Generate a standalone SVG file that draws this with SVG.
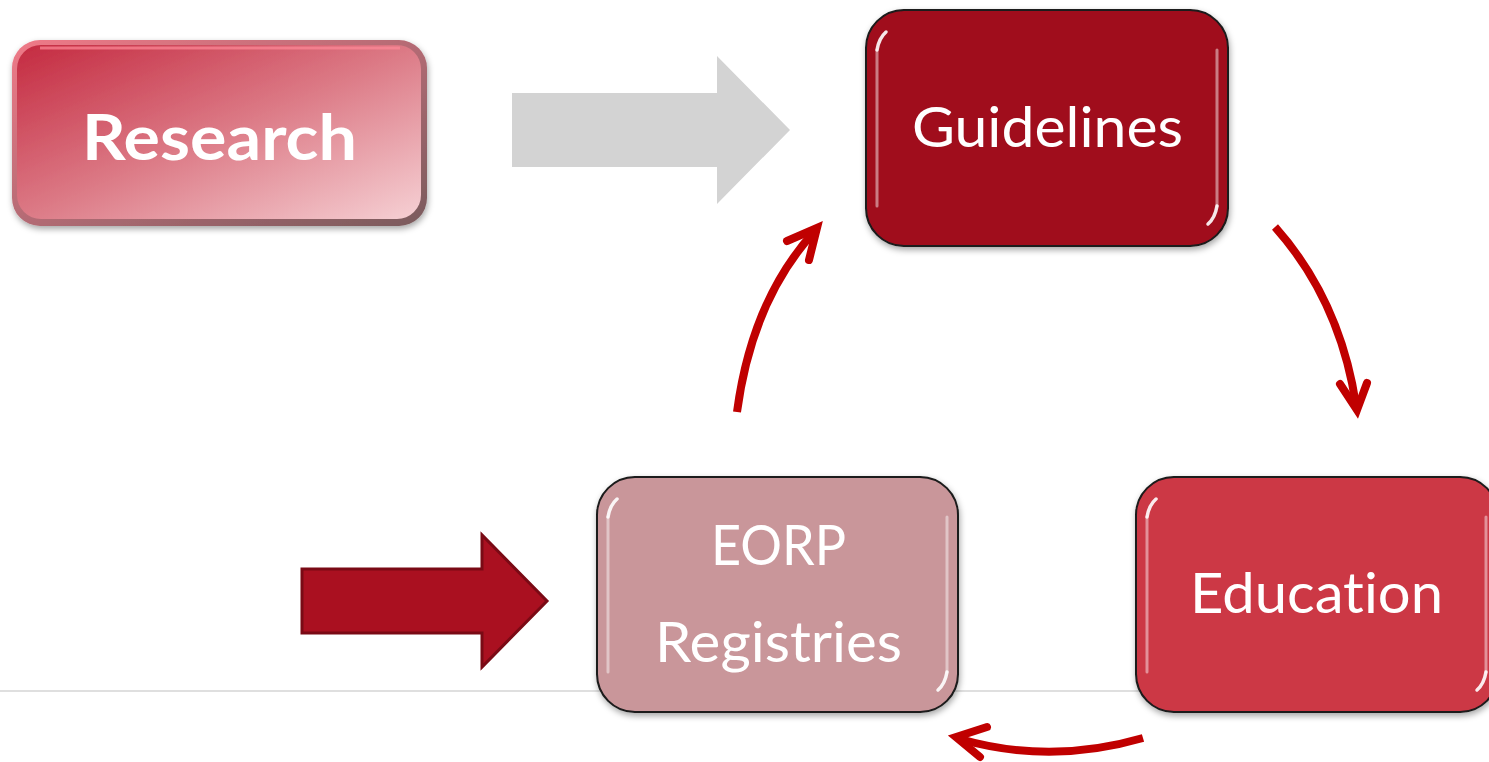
<svg xmlns="http://www.w3.org/2000/svg" width="1489" height="762" viewBox="0 0 1489 762">
<style>
.lbl{font-family:Lato,"Open Sans","Liberation Sans",sans-serif;fill:#ffffff;font-size:57px;font-variant-ligatures:none;font-feature-settings:"liga" 0}
.box{stroke:#1a1a1a;stroke-width:2}
.hl{fill:none;stroke:#ffffff;stroke-opacity:0.45;stroke-width:3;stroke-linecap:round}
.hc{fill:none;stroke:#ffffff;stroke-opacity:0.9;stroke-width:3.5;stroke-linecap:round}
.cur{fill:none;stroke:#c00000;stroke-width:8;stroke-linecap:butt}
.head{fill:none;stroke:#c00000;stroke-width:8;stroke-linecap:round;stroke-linejoin:miter}
</style>
<defs>
<filter id="sh" x="-10%" y="-10%" width="120%" height="125%">
<feDropShadow dx="1" dy="3" stdDeviation="3" flood-color="#000" flood-opacity="0.35"/>
</filter>
<linearGradient id="resg" x1="0" y1="0" x2="1" y2="1">
<stop offset="0" stop-color="#c42a40"/>
<stop offset="0.5" stop-color="#dc7a86"/>
<stop offset="1" stop-color="#f6d0d4"/>
</linearGradient>
<linearGradient id="resedge" x1="0" y1="0" x2="1" y2="1">
<stop offset="0" stop-color="#f07a88"/>
<stop offset="0.6" stop-color="#a86870"/>
<stop offset="1" stop-color="#7a5a5c"/>
</linearGradient>
</defs>

<line x1="0" y1="691" x2="1140" y2="691" stroke="#d4d4d4" stroke-width="1.5"/>

<g id="research" filter="url(#sh)">
<rect x="12" y="40" width="415" height="186" rx="28" fill="url(#resedge)"/>
<rect x="17" y="45" width="404" height="174" rx="24" fill="url(#resg)"/>
<path d="M40,48 L400,48" stroke="#ff8a98" stroke-opacity="0.7" stroke-width="3" fill="none"/>
<text x="82" y="160" class="lbl" style="font-weight:bold;font-size:63px" textLength="275" lengthAdjust="spacingAndGlyphs">Research</text>
</g>

<g id="grey-arrow">
<polygon points="512,93 717,93 717,56 790,130 717,204 717,167 512,167" fill="#d3d3d3"/>
</g>

<g id="guidelines" filter="url(#sh)">
<rect class="box" x="866" y="10" width="362" height="236" rx="38" fill="#a00f1f"/>
<path class="hl" d="M877,50 L877,206"/>
<path class="hl" d="M1217,50 L1217,206"/>
<path class="hc" d="M877,50 Q879,38 886,32"/>
<path class="hc" d="M1217,206 Q1215,218 1208,224"/>
<text x="912" y="147" class="lbl" textLength="271" lengthAdjust="spacingAndGlyphs">Guidelines</text>
</g>

<g id="eorp" filter="url(#sh)">
<rect class="box" x="597" y="477" width="361" height="235" rx="38" fill="#c9969a"/>
<path class="hl" d="M608,517 L608,672"/>
<path class="hl" d="M947,517 L947,672"/>
<path class="hc" d="M608,517 Q610,505 617,499"/>
<path class="hc" d="M947,672 Q945,684 938,690"/>
<text x="711" y="565" class="lbl" textLength="135" lengthAdjust="spacingAndGlyphs">EORP</text>
<text x="655" y="662" class="lbl" textLength="247" lengthAdjust="spacingAndGlyphs">Registries</text>
</g>

<g id="education" filter="url(#sh)">
<rect class="box" x="1136" y="477" width="362" height="235" rx="38" fill="#cc3745"/>
<path class="hl" d="M1147,517 L1147,672"/>
<path class="hl" d="M1486,517 L1486,672"/>
<path class="hc" d="M1147,517 Q1149,505 1156,499"/>
<path class="hc" d="M1486,672 Q1484,684 1477,690"/>
<text x="1190" y="613" class="lbl" textLength="253" lengthAdjust="spacingAndGlyphs">Education</text>
</g>

<g id="input-arrow">
<polygon points="302,569 482,569 482,535 547,601 482,667 482,633 302,633" fill="#aa1020" stroke="#7a0a15" stroke-width="3"/>
</g>

<g id="connectors">
<path class="cur" d="M737,412 Q752,300 814,232"/>
<path class="head" d="M787,241 L817,228 L809,260"/>
<path class="cur" d="M1275,227 Q1340,300 1356,405"/>
<path class="head" d="M1340,384 L1357,410 L1367,383"/>
<path class="cur" d="M1143,738 Q1050,765 960,739"/>
<path class="head" d="M987,727 L956,737 L980,757"/>
</g>
</svg>
